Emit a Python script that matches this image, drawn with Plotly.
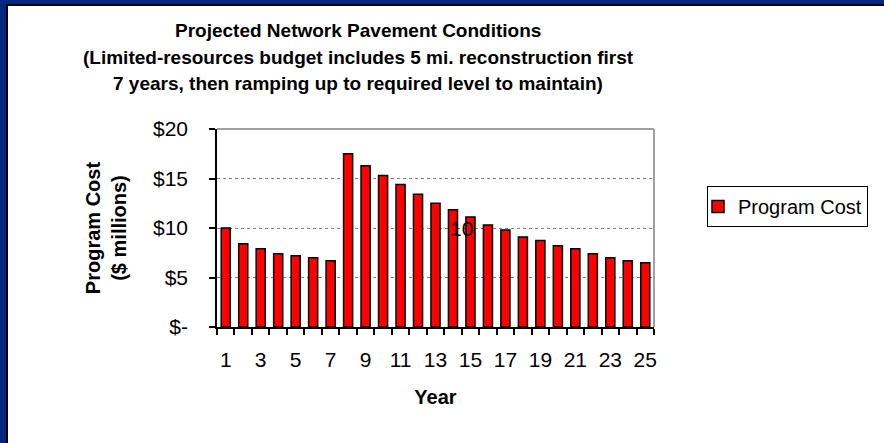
import plotly.graph_objects as go

years = list(range(1, 26))
program_cost = [10.0, 8.4, 7.9, 7.4, 7.2, 7.0, 6.7, 17.5, 16.3, 15.3, 14.4, 13.4,
                12.5, 11.85, 11.1, 10.3, 9.8, 9.1, 8.75, 8.2, 7.9, 7.4, 7.0, 6.7, 6.5]
y_tick_vals = [0, 5, 10, 15, 20]
y_tick_text = ["$-", "$5", "$10", "$15", "$20"]
x_tick_vals = list(range(1, 26, 2))
title_lines = [
    "Projected Network Pavement Conditions",
    "(Limited-resources budget includes 5 mi. reconstruction first",
    "7 years, then ramping up to required level to maintain)",
]
series_name = "Program Cost"
stray_label = "10"

W, H = 884, 443
L, R, T, B = 217, 230, 129, 116
PW, PH = W - L - R, H - T - B
FONT = "Liberation Sans, Arial, sans-serif"


def px(x):
    return (x - L) / PW


def py(y):
    return (H - B - y) / PH


fig = go.Figure()
fig.add_trace(go.Bar(
    x=years, y=program_cost, name=series_name, width=0.52,
    marker=dict(color="#FF0000", line=dict(color="#000000", width=1.5)),
    showlegend=True,
))

shapes = [
    # blue frame
    dict(type="rect", xref="paper", yref="paper", x0=px(0), x1=px(6), y0=py(H), y1=py(0),
         fillcolor="#002882", line=dict(width=0), layer="above"),
    dict(type="rect", xref="paper", yref="paper", x0=px(0), x1=px(W), y0=py(4), y1=py(0),
         fillcolor="#002882", line=dict(width=0), layer="above"),
    dict(type="rect", xref="paper", yref="paper", x0=px(6), x1=px(8), y0=py(H), y1=py(4),
         fillcolor="#000000", line=dict(width=0), layer="above"),
    dict(type="rect", xref="paper", yref="paper", x0=px(6), x1=px(W), y0=py(6), y1=py(4),
         fillcolor="#000000", line=dict(width=0), layer="above"),
    # plot border top/right
    dict(type="line", xref="paper", yref="paper", x0=0, x1=1, y0=1, y1=1,
         line=dict(color="#A0A0A0", width=2)),
    dict(type="line", xref="paper", yref="paper", x0=1, x1=1, y0=0, y1=1,
         line=dict(color="#A0A0A0", width=2)),
]

annotations = []
title_y = [30, 57, 83]
for line, yy in zip(title_lines, title_y):
    annotations.append(dict(
        text=line, xref="paper", yref="paper", x=px(358), y=py(yy),
        xanchor="center", yanchor="middle", showarrow=False,
        font=dict(family=FONT, size=19, color="#000000", weight="bold"),
    ))
annotations.append(dict(
    text=stray_label, x=14.5, y=10, xref="x", yref="y", showarrow=False,
    xanchor="center", yanchor="middle",
    font=dict(family=FONT, size=21, color="#000000"),
))

fig.update_layout(
    width=W, height=H,
    margin=dict(l=L, r=R, t=T, b=B),
    paper_bgcolor="#FFFFFF", plot_bgcolor="#FFFFFF",
    font=dict(family=FONT, size=20, color="#000000"),
    shapes=shapes,
    annotations=annotations,
    legend=dict(
        x=px(707), y=py(227), xanchor="left", yanchor="bottom",
        bordercolor="#000000", borderwidth=1, bgcolor="#FFFFFF",
        indentation=-10, entrywidth=190,
        font=dict(family=FONT, size=20, color="#000000"),
    ),
    xaxis=dict(
        range=[0.5, 25.5], tickmode="array", tickvals=x_tick_vals,
        ticks="", showgrid=False, zeroline=False,
        showline=True, linecolor="#000000", linewidth=1.5,
        tickfont=dict(family=FONT, size=21), ticklabelstandoff=13,
        minor=dict(tick0=0.5, dtick=1, ticks="outside", ticklen=6,
                   tickcolor="#000000", tickwidth=1.5, showgrid=False),
        title=dict(text="Year", standoff=20,
                   font=dict(family=FONT, size=20, weight="bold")),
    ),
    yaxis=dict(
        range=[0, 20], tickmode="array", tickvals=y_tick_vals, ticktext=y_tick_text,
        ticks="outside", ticklen=6, tickcolor="#000000", tickwidth=1.5,
        showgrid=True, gridcolor="#808080", griddash="dot", gridwidth=1,
        zeroline=False, showline=True, linecolor="#000000", linewidth=1.5,
        tickfont=dict(family=FONT, size=21), ticklabelstandoff=17,
        title=dict(text="Program Cost<br>($ millions)", standoff=21,
                   font=dict(family=FONT, size=20, weight="bold")),
    ),
)

fig.write_html("out.html", config={"displayModeBar": False},
               post_script="document.body.style.margin='0';")
